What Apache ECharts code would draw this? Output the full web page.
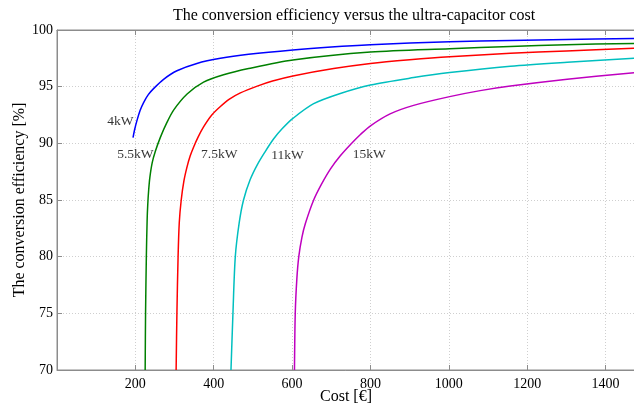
<!DOCTYPE html>
<html>
<head>
<meta charset="utf-8">
<script src="https://cdn.jsdelivr.net/npm/echarts@6/dist/echarts.min.js"></script>
<style>
  html, body { margin: 0; padding: 0; background: #fff; }
  #chart { width: 634px; height: 407px; }
</style>
</head>
<body>
<div id="chart"></div>
<script>
// Efficiency [%] against ultra-capacitor cost [€], one curve per motor power rating
const seriesNames = ['4kW', '5.5kW', '7.5kW', '11kW', '15kW'];
const seriesColors = ['#0000ff', '#008000', '#ff0000', '#00bfbf', '#bf00bf'];

const cost4kW = [194, 198, 204, 212, 221, 233, 247, 272, 306, 357, 417, 489, 602, 700, 800, 1002, 1157, 1300, 1473];
const eff4kW  = [90.5, 91.2, 92.0, 92.9, 93.6, 94.3, 94.85, 95.65, 96.4, 97.05, 97.5, 97.85, 98.24, 98.5, 98.7, 98.97, 99.08, 99.17, 99.26];

const cost5kW = [225, 226, 228, 230, 231.6, 234, 237, 243, 251, 264, 280, 298, 332, 374, 425, 489, 602, 800, 1002, 1157, 1300, 1473];
const eff5kW  = [70, 75, 80, 83.2, 84.6, 85.9, 87.0, 88.3, 89.3, 90.55, 91.8, 92.95, 94.35, 95.4, 96.05, 96.6, 97.35, 98.05, 98.35, 98.55, 98.7, 98.82];

const cost7kW = [304, 306, 309, 312, 317, 324, 332, 340, 349, 360, 374, 395, 417, 440, 468, 511, 550, 602, 706, 800, 900, 1002, 1157, 1300, 1473];
const eff7kW  = [70, 75, 80, 83, 85, 86.7, 87.94, 88.9, 89.7, 90.55, 91.45, 92.5, 93.25, 93.9, 94.45, 95.05, 95.5, 95.95, 96.6, 97.05, 97.38, 97.65, 97.94, 98.15, 98.38];

const cost11kW = [444, 449, 455, 465, 476, 493, 511, 530, 553, 575, 602, 655, 723, 800, 910, 1002, 1157, 1302, 1473];
const eff11kW  = [70, 75, 80, 83, 85, 86.8, 88.1, 89.2, 90.4, 91.3, 92.2, 93.5, 94.4, 95.15, 95.8, 96.24, 96.8, 97.15, 97.5];

const cost15kW = [606, 608, 612, 617, 625, 634, 655, 675, 698, 723, 749, 775, 800, 850, 910, 1002, 1080, 1157, 1302, 1473];
const eff15kW  = [70, 75, 78, 80, 81.7, 82.94, 85, 86.4, 87.75, 88.9, 89.9, 90.8, 91.55, 92.6, 93.35, 94.12, 94.65, 95.05, 95.65, 96.24];

// Where each rating's name sits, in data coordinates
const labelCost = [162, 200, 414, 588, 797];
const labelEff  = [91.97, 89.06, 89.06, 88.9, 89.06];

const xTicks = [200, 400, 600, 800, 1000, 1200, 1400];
const yTicks = [70, 75, 80, 85, 90, 95, 100];

const costs = [cost4kW, cost5kW, cost7kW, cost11kW, cost15kW];
const effs  = [eff4kW, eff5kW, eff7kW, eff11kW, eff15kW];

const serif = 'Liberation Serif';
const axisGrey = '#8c8c8c';

const lineSeries = seriesNames.map((name, i) => ({
  name: name,
  type: 'line',
  data: costs[i].map((c, k) => [c, effs[i][k]]),
  showSymbol: false,
  smooth: 0.3,
  lineStyle: { color: seriesColors[i], width: 1.5 },
  itemStyle: { color: seriesColors[i] },
  clip: true,
  z: 3
}));

const labelSeries = {
  type: 'scatter',
  symbolSize: 0,
  silent: true,
  data: seriesNames.map((name, i) => ({
    value: [labelCost[i], labelEff[i]],
    label: {
      show: true,
      formatter: name,
      position: 'inside',
      color: '#000',
      fontFamily: serif,
      fontSize: 13.5
    }
  })),
  z: 5
};

const chart = echarts.init(document.getElementById('chart'), null, { renderer: 'canvas' });
chart.setOption({
  backgroundColor: '#ffffff',
  animation: false,
  title: {
    text: 'The conversion efficiency versus the ultra-capacitor cost',
    left: 349,
    textAlign: 'center',
    top: 3,
    textStyle: { fontFamily: serif, fontSize: 16, fontWeight: 'normal', color: '#000' }
  },
  grid: {
    left: 57, top: 30, width: 578, height: 340,
    outerBoundsMode: 'none',
    containLabel: false,
    show: true, borderColor: axisGrey, borderWidth: 1, backgroundColor: '#fff'
  },
  xAxis: [{
    type: 'value',
    min: 0, max: 1475, interval: 200,
    name: 'Cost [€]',
    nameLocation: 'middle',
    nameGap: 19,
    nameMoveOverlap: false,
    nameTextStyle: { fontFamily: serif, fontSize: 16, color: '#000' },
    axisLine: { show: true, lineStyle: { color: axisGrey } },
    axisTick: { show: true, inside: true, length: 5, lineStyle: { color: axisGrey } },
    axisLabel: {
      fontFamily: serif, fontSize: 14, color: '#000', margin: 7,
      formatter: v => (xTicks.indexOf(v) >= 0 ? String(v) : ''),
      showMaxLabel: false
    },
    splitLine: { show: true, lineStyle: { color: '#cfcfcf', type: [1, 2], width: 1 } }
  }, {
    type: 'value',
    position: 'top',
    min: 0, max: 1475, interval: 200,
    axisLine: { show: true, lineStyle: { color: axisGrey } },
    axisTick: { show: true, inside: true, length: 5, lineStyle: { color: axisGrey } },
    axisLabel: { show: false },
    splitLine: { show: false }
  }],
  yAxis: {
    type: 'value',
    min: 70, max: 100, interval: 5,
    name: 'The conversion efficiency [%]',
    nameLocation: 'middle',
    nameGap: 29,
    nameMoveOverlap: false,
    nameTextStyle: { fontFamily: serif, fontSize: 16, color: '#000' },
    axisLine: { show: true, lineStyle: { color: axisGrey } },
    axisTick: { show: true, inside: true, length: 5, lineStyle: { color: axisGrey } },
    axisLabel: {
      fontFamily: serif, fontSize: 14, color: '#000', margin: 4,
      formatter: v => (yTicks.indexOf(v) >= 0 ? String(v) : '')
    },
    splitLine: { show: true, lineStyle: { color: '#cfcfcf', type: [1, 2], width: 1 } }
  },
  series: lineSeries.concat([labelSeries])
});
</script>
</body>
</html>
